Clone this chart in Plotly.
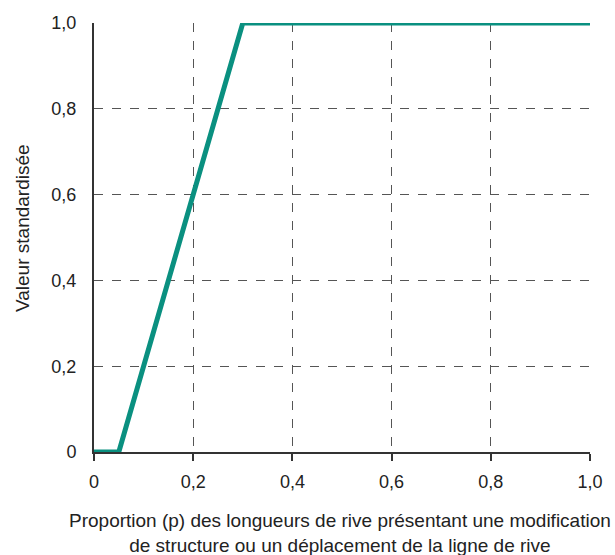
import plotly.graph_objects as go

p_values = [0, 0.05, 0.3, 1.0]
std_values = [0, 0, 1.0, 1.0]
x_tickvals = [0, 0.2, 0.4, 0.6, 0.8, 1.0]
x_ticktext = ["0", "0,2", "0,4", "0,6", "0,8", "1,0"]
y_tickvals = [0, 0.2, 0.4, 0.6, 0.8, 1.0]
y_ticktext = ["0", "0,2", "0,4", "0,6", "0,8", "1,0"]

fig = go.Figure()
fig.add_trace(go.Scatter(x=p_values, y=std_values, mode="lines",
                         line=dict(color="#0a9080", width=5), cliponaxis=False,
                         showlegend=False))

font = dict(family="Liberation Sans, Arial, sans-serif", size=18, color="#222222")
tfont = dict(family="Liberation Sans, Arial, sans-serif", size=19, color="#222222")

L, R, T, B = 94, 25, 23, 103
W, H = 615, 555
pw, ph = W - L - R, H - T - B

fig.update_layout(
    width=W, height=H,
    margin=dict(l=L, r=R, t=T, b=B),
    plot_bgcolor="white", paper_bgcolor="white",
    font=font,
    xaxis=dict(range=[0, 1], tickvals=x_tickvals, ticktext=x_ticktext,
               showgrid=True, gridcolor="#555555", griddash="dash", gridwidth=1,
               showline=True, linecolor="#333333", linewidth=2,
               ticks="outside", ticklen=7, tickwidth=2, tickcolor="#333333",
               zeroline=False, tickfont=font, automargin=False, ticklabelstandoff=5),
    yaxis=dict(range=[0, 1], tickvals=y_tickvals, ticktext=y_ticktext,
               showgrid=True, gridcolor="#555555", griddash="dash", gridwidth=1,
               showline=True, linecolor="#333333", linewidth=2,
               ticks="", zeroline=False, tickfont=font, ticklabelstandoff=12,
               automargin=False),
    annotations=[
        dict(text="Valeur standardisée", xref="paper", yref="paper",
             x=(22 - L) / pw, y=(H - B - 228) / ph, textangle=-90,
             showarrow=False, font=tfont, xanchor="center", yanchor="middle"),
        dict(text="Proportion (p) des longueurs de rive présentant une modification<br>de structure ou un déplacement de la ligne de rive",
             xref="paper", yref="paper", x=(340 - L) / pw, y=-(533 - (H - B)) / ph,
             showarrow=False, font=tfont, xanchor="center", yanchor="middle"),
    ],
)

fig.write_html("out.html", config={"displayModeBar": False},
               post_script="document.body.style.margin='0';document.body.style.overflow='hidden';")
